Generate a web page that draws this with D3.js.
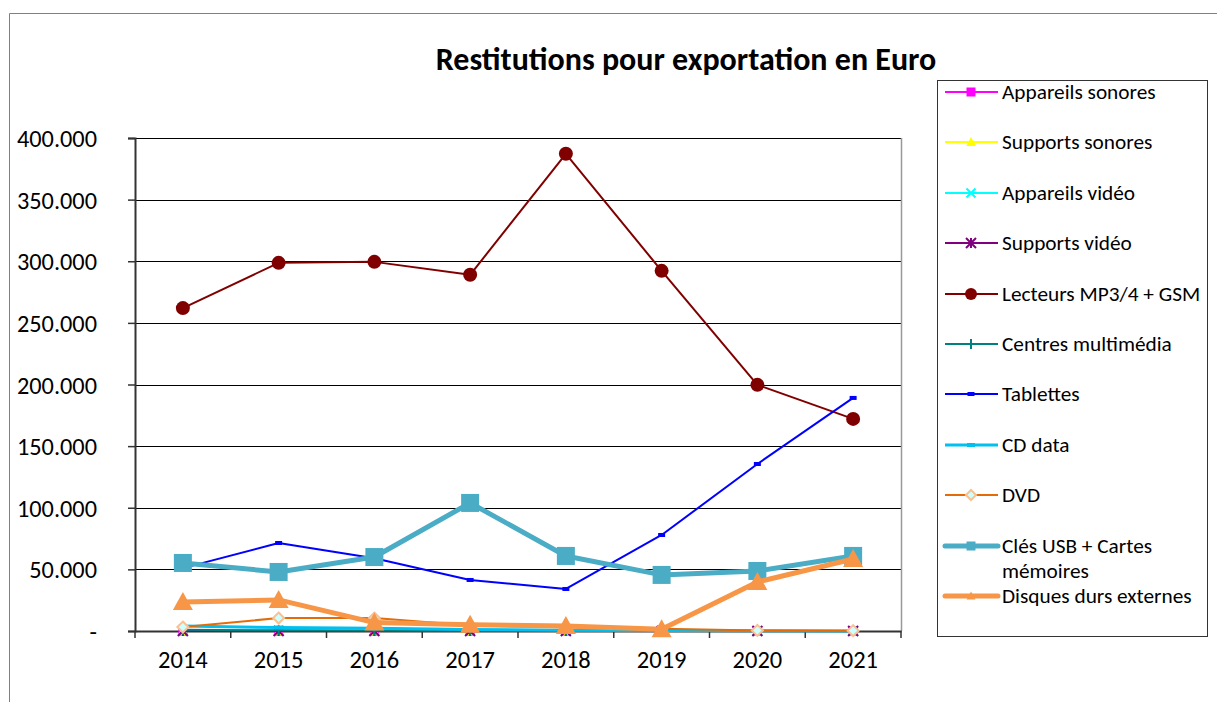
<!DOCTYPE html>
<html>
<head>
<meta charset="utf-8">
<script src="https://cdn.jsdelivr.net/npm/d3@7"></script>
<style>
  body { margin: 0; background: #fff; }
  text { font-family: Carlito, Calibri, "Open Sans", sans-serif; }
</style>
</head>
<body>
<svg id="chart" width="1217" height="702"></svg>
<script>
"use strict";

const years = ["2014", "2015", "2016", "2017", "2018", "2019", "2020", "2021"];
const yTicks = [0, 50000, 100000, 150000, 200000, 250000, 300000, 350000, 400000];

const appareilsSonores = [0, 0, 0, 0, 0, 0, 0, 0];
const supportsSonores = [0, 0, 0, 0, 0, 0, 0, 0];
const appareilsVideo = [500, 300, 200, 100, 100, 0, 0, 0];
const supportsVideo = [0, 0, 0, 0, 0, 0, 0, 0];
const lecteursMp3 = [262000, 298700, 299500, 289000, 387200, 292200, 199700, 172100];
const centresMultimedia = [1000, 600, 400, 300, 200, 100, 100, 0];
const tablettes = [51000, 71400, 59000, 41400, 34100, 77900, 135500, 189100];
const cdData = [4000, 2800, 2200, 1200, 700, 400, 200, 100];
const dvd = [3200, 10500, 10500, 4500, 3000, 1800, 500, 300];
const clesUsb = [55200, 47900, 60000, 103900, 60900, 45500, 48700, 60900];
const disquesDurs = [23500, 25200, 6800, 5000, 4000, 1500, 39800, 58400];

// series: name, values, line colour, width, marker
const series = [
  { name: "Appareils sonores", values: appareilsSonores, color: "#ff00ff", width: 2, marker: "square", size: 9, fill: "#ff00ff" },
  { name: "Supports sonores", values: supportsSonores, color: "#ffff00", width: 2, marker: "triangle", size: 10, fill: "#ffff00" },
  { name: "Appareils vidéo", values: appareilsVideo, color: "#00ffff", width: 2, marker: "cross", size: 9, fill: "#00ffff" },
  { name: "Supports vidéo", values: supportsVideo, color: "#800080", width: 2, marker: "star", size: 10, fill: "#800080" },
  { name: "Lecteurs MP3/4 + GSM", values: lecteursMp3, color: "#800000", width: 2, marker: "circle", size: 14, fill: "#800000" },
  { name: "Centres multimédia", values: centresMultimedia, color: "#008080", width: 2, marker: "plus", size: 10, fill: "#008080" },
  { name: "Tablettes", values: tablettes, color: "#0000ff", width: 2, marker: "dash", size: 7, fill: "#0000ff" },
  { name: "CD data", values: cdData, color: "#00c0f0", width: 3, marker: "dash", size: 8, fill: "#00c0f0" },
  { name: "DVD", values: dvd, color: "#e36c09", width: 2, marker: "diamond", size: 11, fill: "#ccffff", stroke: "#fac090" },
  { name: "Clés USB + Cartes mémoires", values: clesUsb, color: "#4bacc6", width: 5, marker: "square", size: 18, fill: "#4bacc6" },
  { name: "Disques durs externes", values: disquesDurs, color: "#f79646", width: 5, marker: "triangle", size: 20, fill: "#f79646" },
];

const legendLines = {
  "Clés USB + Cartes mémoires": ["Clés USB + Cartes", "mémoires"],
};

const svg = d3.select("#chart");

// outer frame
svg.append("path")
  .attr("d", "M9.5,702 V13.5 H1217")
  .attr("fill", "none")
  .attr("stroke", "#808080")
  .attr("stroke-width", 1);

svg.append("text")
  .attr("x", 686)
  .attr("y", 70)
  .attr("text-anchor", "middle")
  .attr("font-size", 32)
  .attr("font-weight", "bold")
  .text("Restitutions pour exportation en Euro");

const plot = { left: 135, right: 901, top: 138, bottom: 631 };

const x = d3.scaleBand().domain(years).range([plot.left, plot.right]);
const y = d3.scaleLinear().domain([0, 400000]).range([plot.bottom, plot.top]);

const fmt = (d) => (d === 0 ? "-" : d3.format(",")(d).replace(/,/g, "."));

// gridlines
svg.append("g")
  .selectAll("line")
  .data(yTicks.slice(1))
  .join("line")
  .attr("x1", plot.left)
  .attr("x2", plot.right)
  .attr("y1", (d) => Math.round(y(d)) + 0.5)
  .attr("y2", (d) => Math.round(y(d)) + 0.5)
  .attr("stroke", "#000")
  .attr("stroke-width", 1);

// right border of plot area
svg.append("line")
  .attr("x1", plot.right + 0.5)
  .attr("x2", plot.right + 0.5)
  .attr("y1", plot.top)
  .attr("y2", plot.bottom)
  .attr("stroke", "#999")
  .attr("stroke-width", 1.5);

// y axis
const yAxis = svg.append("g")
  .attr("transform", `translate(${plot.left},0)`)
  .call(d3.axisLeft(y).tickValues(yTicks).tickFormat(fmt).tickSize(7).tickPadding(31));
yAxis.select(".domain").attr("stroke", "#333").attr("stroke-width", 2);
yAxis.selectAll(".tick line").attr("stroke", "#333").attr("stroke-width", 1.5);
yAxis.selectAll(".tick text").attr("font-size", 24.3).attr("fill", "#000")
  .attr("font-family", "Carlito, Calibri, 'Open Sans', sans-serif")
  .attr("dy", "0.35em");

// x axis
const xAxis = svg.append("g")
  .attr("transform", `translate(0,${plot.bottom})`)
  .call(d3.axisBottom(x).tickSize(0).tickPadding(20));
xAxis.select(".domain").attr("stroke", "#333").attr("stroke-width", 2);
xAxis.selectAll(".tick text").attr("font-size", 24.5).attr("fill", "#000")
  .attr("font-family", "Carlito, Calibri, 'Open Sans', sans-serif");
xAxis.append("g")
  .selectAll("line")
  .data(d3.range(years.length + 1))
  .join("line")
  .attr("x1", (i) => plot.left + i * x.step())
  .attr("x2", (i) => plot.left + i * x.step())
  .attr("y1", 0)
  .attr("y2", 7)
  .attr("stroke", "#333")
  .attr("stroke-width", 1.5);

function drawMarker(g, s, cx, cy) {
  const r = s.size / 2;
  const stroke = s.stroke || s.fill;
  switch (s.marker) {
    case "square":
      g.append("rect").attr("x", cx - r).attr("y", cy - r).attr("width", s.size).attr("height", s.size)
        .attr("fill", s.fill);
      break;
    case "triangle":
      g.append("path").attr("d", `M${cx},${cy - r} L${cx + r},${cy + r * 0.8} L${cx - r},${cy + r * 0.8} Z`)
        .attr("fill", s.fill);
      break;
    case "circle":
      g.append("circle").attr("cx", cx).attr("cy", cy).attr("r", r).attr("fill", s.fill);
      break;
    case "diamond":
      g.append("path").attr("d", `M${cx},${cy - r} L${cx + r},${cy} L${cx},${cy + r} L${cx - r},${cy} Z`)
        .attr("fill", s.fill).attr("stroke", stroke).attr("stroke-width", 2);
      break;
    case "cross":
      g.append("path").attr("d", `M${cx - r},${cy - r} L${cx + r},${cy + r} M${cx - r},${cy + r} L${cx + r},${cy - r}`)
        .attr("stroke", stroke).attr("stroke-width", 2);
      break;
    case "plus":
      g.append("path").attr("d", `M${cx},${cy - r} V${cy + r}`)
        .attr("stroke", stroke).attr("stroke-width", 2);
      break;
    case "star":
      g.append("path").attr("d", `M${cx - r},${cy - r} L${cx + r},${cy + r} M${cx - r},${cy + r} L${cx + r},${cy - r} M${cx},${cy - r} V${cy + r}`)
        .attr("stroke", stroke).attr("stroke-width", 2);
      break;
    case "dash":
      g.append("rect").attr("x", cx - r).attr("y", cy - 2).attr("width", s.size).attr("height", 4)
        .attr("fill", s.fill);
      break;
  }
}

const line = d3.line()
  .x((d, i) => x(years[i]) + x.bandwidth() / 2)
  .y((d) => y(d));

const seriesG = svg.append("g");
series.forEach((s) => {
  const g = seriesG.append("g");
  g.append("path")
    .datum(s.values)
    .attr("d", line)
    .attr("fill", "none")
    .attr("stroke", s.color)
    .attr("stroke-width", s.width)
    .attr("stroke-linejoin", "round");
  s.values.forEach((v, i) => {
    drawMarker(g, s, x(years[i]) + x.bandwidth() / 2, y(v));
  });
});

// legend
const legend = svg.append("g");
legend.append("rect")
  .attr("x", 937.5)
  .attr("y", 80.5)
  .attr("width", 270)
  .attr("height", 556)
  .attr("fill", "#fff")
  .attr("stroke", "#333")
  .attr("stroke-width", 1);

const legendY = [92, 142, 193, 243, 294, 344, 394, 445, 495, 546, 596];
series.forEach((s, i) => {
  const ly = legendY[i];
  const g = legend.append("g");
  g.append("line")
    .attr("x1", 945)
    .attr("x2", 998)
    .attr("y1", ly)
    .attr("y2", ly)
    .attr("stroke", s.color)
    .attr("stroke-width", s.width)
    .attr("stroke-linecap", s.width > 3 ? "round" : "butt");
  const ls = Object.assign({}, s, { size: Math.min(s.size, s.width > 3 ? 9 : 10) });
  if (s.marker === "circle") ls.size = 12;
  drawMarker(g, ls, 971, ly);
  const lines = legendLines[s.name] || [s.name];
  const t = g.append("text")
    .attr("x", 1002)
    .attr("y", ly)
    .attr("font-size", 21.3)
    .attr("fill", "#000");
  lines.forEach((txt, k) => {
    t.append("tspan")
      .attr("x", 1002)
      .attr("dy", k === 0 ? "0.35em" : "1.17em")
      .text(txt);
  });
});
</script>
</body>
</html>
